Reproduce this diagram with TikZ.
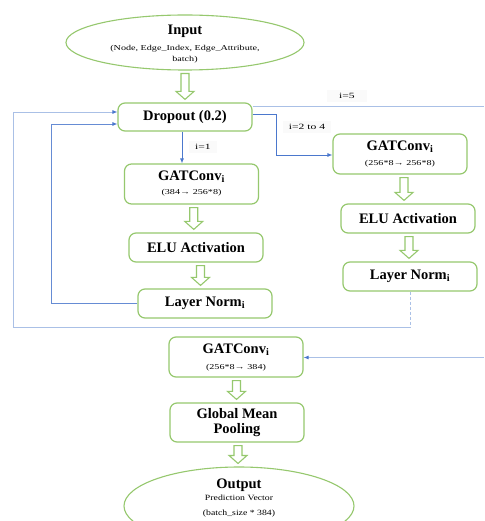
\documentclass[tikz,border=0pt]{standalone}
\usepackage{fontspec}
\usepackage{graphicx}
\setmainfont{Liberation Serif}
\usetikzlibrary{shapes.geometric,arrows.meta,calc}
\definecolor{boxgreen}{RGB}{150,200,110}
\definecolor{lineblue}{RGB}{75,120,205}
\definecolor{paleblue}{RGB}{170,192,230}
\newcommand\subtxt[1]{\scalebox{1.35}[1]{\fontsize{7.5}{9}\selectfont\mdseries #1}}
\newcommand\outtxt[1]{\scalebox{1.22}[1]{\fontsize{8}{10}\selectfont\mdseries #1}}
\newcommand\lbltxt[1]{\scalebox{1.45}[1]{\fontsize{8}{10}\selectfont #1}}
\newcommand\hollowarrow[2]{%
  \path[draw=boxgreen, line width=1.1pt, fill=white, line join=miter]
    let \p1=(#1.south), \p2=(#2.north), \n1={(\x1+\x2)/2} in
    (\n1-4pt,\y1-3pt) -- (\n1+4pt,\y1-3pt) -- (\n1+4pt,\y2+11pt) --
    (\n1+9pt,\y2+11pt) -- (\n1,\y2+3pt) -- (\n1-9pt,\y2+11pt) --
    (\n1-4pt,\y2+11pt) -- cycle;}
\begin{document}
\begin{tikzpicture}[x=1pt,y=-1pt,
  box/.style={draw=boxgreen, line width=1.2pt, rounded corners=7pt, fill=white,
    minimum width=134pt, align=center, inner sep=0pt,
    font=\fontsize{14.5}{17}\selectfont\bfseries},
  oval/.style={ellipse, draw=boxgreen, line width=1.1pt, fill=white, inner sep=0pt},
  link/.style={draw=lineblue, line width=0.8pt, -{Latex[length=5pt,width=4pt,color=lineblue]}},
  plink/.style={draw=paleblue, line width=1pt},
  lbl/.style={fill=black!2, inner xsep=12pt, inner ysep=3pt}
]
\useasboundingbox (0,0) rectangle (484,521);
\fill[white] (0,0) rectangle (484,521);

% input / output ellipses
\node[oval, minimum width=238pt, minimum height=55pt] (in) at (185,42.5) {};
\node[align=center, font=\fontsize{14.5}{17}\selectfont\bfseries] (intxt) at (185,31) {Input};
\node[align=center, inner sep=0pt] (insub) at (185,54)
  {\subtxt{(Node, Edge\_Index, Edge\_Attribute,}\\[-1pt]\subtxt{batch)}};

\node[box, minimum height=28pt] (drop) at (185,117) {Dropout (0.2)};

\node[box, minimum height=40pt] (gat1) at (191.5,184) {};
\node[font=\fontsize{14.5}{17}\selectfont\bfseries] (gat1t) at (191.5,177) {GATConv\textsubscript{i}};
\node (gat1s) at (191.5,193) {\subtxt{(384→ 256*8)}};
\node[box, minimum height=29pt] (elu1) at (196,247.5) {ELU Activation};
\node[box, minimum height=29pt] (ln1) at (205,303.5) {Layer Norm\textsubscript{i}};

\node[box, minimum height=40pt] (gat2) at (400,154) {};
\node[font=\fontsize{14.5}{17}\selectfont\bfseries] (gat2t) at (400,147) {GATConv\textsubscript{i}};
\node (gat2s) at (400,164) {\subtxt{(256*8→ 256*8)}};
\node[box, minimum height=29pt] (elu2) at (408,218.5) {ELU Activation};
\node[box, minimum height=29pt] (ln2) at (410,276.5) {Layer Norm\textsubscript{i}};

\node[box, minimum height=40pt] (gat3) at (236,357) {};
\node[font=\fontsize{14.5}{17}\selectfont\bfseries] (gat3t) at (236,350) {GATConv\textsubscript{i}};
\node (gat3s) at (236,368) {\subtxt{(256*8→ 384)}};
\node[box, minimum height=39pt, font=\fontsize{14.5}{15}\selectfont\bfseries] (pool) at (237,422.5) {Global Mean\\Pooling};

\node[oval, minimum width=230pt, minimum height=78pt] (out) at (239,506) {};
\node[font=\fontsize{14.5}{17}\selectfont\bfseries] (outt) at (239,485) {Output};
\node[align=center, inner sep=0pt] (outs) at (239,506)
  {\outtxt{Prediction Vector}\\[3.5pt]\outtxt{(batch\_size * 384)}};

% hollow arrows
\hollowarrow{in}{drop}
\hollowarrow{gat1}{elu1}
\hollowarrow{elu1}{ln1}
\hollowarrow{gat2}{elu2}
\hollowarrow{elu2}{ln2}
\hollowarrow{gat3}{pool}
\hollowarrow{pool}{out}

% coordinates for free ends
\coordinate (r5) at (484,107);
\coordinate (rin) at (484,357.5);

% blue connectors
\draw[link] (drop.south -| 182,0) -- (gat1.north -| 182,0);
\draw[link] (drop.east |- 0,114) -| (276,155) -- (gat2.west |- 0,155);
\draw[plink] (drop.east |- 0,107) -- (r5);
\draw[link, draw=lineblue!85] (ln1.west) -| (51,124) -- (drop.west |- 0,124);
\draw[plink, densely dashed] (ln2.south) -- (410,327);
\draw[plink] (410,327) -| (13,112);
\draw[link, draw=paleblue] (13,112) -- (drop.west |- 0,112);
\draw[link, draw=paleblue] (rin) -- (gat3.east |- rin);

% labels
\node[lbl] (l5) at (347,96) {\lbltxt{i=5}};
\node[lbl, inner xsep=6pt] (l24) at (307,127) {\lbltxt{i=2 to 4}};
\node[lbl, inner xsep=6pt] (l1) at (203,147) {\lbltxt{i=1}};
\end{tikzpicture}
\end{document}
